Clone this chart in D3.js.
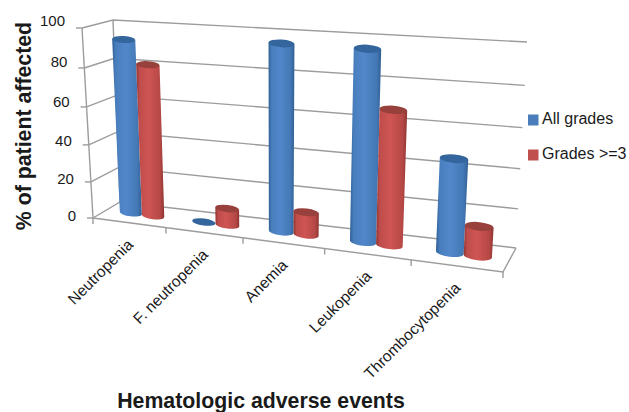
<!DOCTYPE html>
<html>
<head>
<meta charset="utf-8">
<script src="https://cdn.jsdelivr.net/npm/d3@7.9.0/dist/d3.min.js"></script>
<style>
  html, body { margin: 0; padding: 0; background: #fff; }
  text { font-family: "Liberation Sans", Arial, sans-serif; fill: #1a1a1a; }
</style>
</head>
<body>
<svg id="chart" width="629" height="412"></svg>
<script>
// Values
const categories = ['Neutropenia', 'F. neutropenia', 'Anemia', 'Leukopenia', 'Thrombocytopenia'];
const seriesNames = ['All grades', 'Grades >=3'];
const allGrades = [93, 0, 96, 96, 47];
const gradesAbove3 = [81, 9, 12, 68, 15];
const yTicks = [0, 20, 40, 60, 80, 100];

const width = 629, height = 412;
const svg = d3.select('#chart');

// Box corners of the 3D chart, [front, back] x [bottom, top]
const frontLeft = [[93, 218], [82, 28]];
const frontRight = [[503, 272], [517, 57]];
const backLeft = [[120, 202], [113, 20]];
const backRight = [[516, 248], [527, 42]];

// Perspective squeeze along the width and the height
const warp = (t, k) => t / (t + k * (1 - t));
const lerp = (a, b, t) => a + (b - a) * t;
const lerp2 = (a, b, t) => [lerp(a[0], b[0], t), lerp(a[1], b[1], t)];

function project(t, depth, z) {
  const tw = warp(t, 1.155), zw = warp(z, 1.066);
  const fb = lerp2(frontLeft[0], frontRight[0], tw);
  const ft = lerp2(frontLeft[1], frontRight[1], tw);
  const bb = lerp2(backLeft[0], backRight[0], tw);
  const bt = lerp2(backLeft[1], backRight[1], tw);
  return lerp2(lerp2(fb, ft, zw), lerp2(bb, bt, zw), depth);
}

const x0 = d3.scaleBand().domain(categories).range([0, 1]).paddingInner(0.38).paddingOuter(0.19);
const x1 = d3.scaleBand().domain(seriesNames).range([0, x0.bandwidth()]);
const y = d3.scaleLinear().domain([0, 100]).range([0, 1]);
const line = d3.line();

// gradients for the cylinders
const defs = svg.append('defs');
function bodyGradient(id, dark, light) {
  const g = defs.append('linearGradient').attr('id', id);
  g.append('stop').attr('offset', '0%').attr('stop-color', dark);
  g.append('stop').attr('offset', '12%').attr('stop-color', d3.interpolateRgb(dark, light)(0.75));
  g.append('stop').attr('offset', '45%').attr('stop-color', light);
  g.append('stop').attr('offset', '85%').attr('stop-color', d3.interpolateRgb(dark, light)(0.6));
  g.append('stop').attr('offset', '100%').attr('stop-color', dark);
}
bodyGradient('grad0', '#2f5f94', '#5288cb');
bodyGradient('grad1', '#8e3532', '#cf5553');
const topColors = ['#34659c', '#97403c'];
const flatColors = ['#4a7ebb', '#c0504d'];

// walls
const wall = svg.append('g').attr('fill', 'none').attr('stroke', '#9c9c9c').attr('stroke-width', 1.4);
yTicks.forEach(v => {
  const z = y(v);
  wall.append('path').attr('d', line([project(0, 0, z), project(0, 1, z), project(1, 1, z)]));
  wall.append('path').attr('d', line([project(0, 0, z), [project(0, 0, z)[0] - 6, project(0, 0, z)[1]]]));
});
wall.append('path').attr('d', line([project(0, 0, 0), project(0, 0, 1)]));
wall.append('path').attr('d', line([project(0, 1, 0), project(0, 1, 1)]));
wall.append('path').attr('d', line([project(0, 0, 0), project(1, 0, 0), project(1, 1, 0)]));
d3.range(0, categories.length + 1).forEach(i => {
  const p = project(i / categories.length, 0, 0);
  wall.append('path').attr('d', line([p, [p[0], p[1] + 6]]));
});

// y tick labels
svg.append('g').selectAll('text').data(yTicks).join('text')
  .attr('x', d => project(0, 0, y(d))[0] - 17)
  .attr('y', d => project(0, 0, y(d))[1] - 1 - 5 * y(d))
  .attr('text-anchor', 'end')
  .attr('dominant-baseline', 'middle')
  .attr('font-size', 15)
  .text(d => d);

// one cylinder
function drawBar(cat, s, value) {
  const g = svg.append('g');
  const c = x0(cat) + x1(seriesNames[s]);
  const w = x1.bandwidth();
  const z = y(value);
  const bl = project(c, 0.5, 0), br = project(c + w, 0.5, 0);
  const tl = project(c, 0.5, z), tr = project(c + w, 0.5, z);
  const arc = (a, b, sweep) => {
    const rx = Math.hypot(b[0] - a[0], b[1] - a[1]) / 2;
    const rot = Math.atan2(b[1] - a[1], b[0] - a[0]) * 180 / Math.PI;
    return `A${rx},${rx * 0.3} ${rot} 0 ${sweep} ${b[0]},${b[1]}`;
  };
  if (value > 0) {
    g.append('path')
      .attr('d', `M${bl[0]},${bl[1]} L${tl[0]},${tl[1]} L${tr[0]},${tr[1]} L${br[0]},${br[1]} ${arc(br, bl, 1)} Z`)
      .attr('fill', `url(#grad${s})`);
  }
  g.append('path')
    .attr('d', `M${tl[0]},${tl[1]} ${arc(tl, tr, 1)} ${arc(tr, tl, 1)} Z`)
    .attr('fill', topColors[s]);
}
categories.forEach((cat, i) => {
  drawBar(cat, 0, allGrades[i]);
  drawBar(cat, 1, gradesAbove3[i]);
});

// category labels
svg.append('g').selectAll('text').data(categories).join('text')
  .attr('transform', d => {
    const p = project(x0(d) + x0.bandwidth() / 2, 0, 0);
    return `translate(${p[0] + 5},${p[1] + 23}) rotate(-45)`;
  })
  .attr('text-anchor', 'end')
  .attr('font-size', 15.5)
  .text(d => d);

// legend
const legendY = d3.scalePoint().domain(seriesNames).range([120, 155]);
const legend = svg.append('g').selectAll('g').data(seriesNames).join('g')
  .attr('transform', d => `translate(528,${legendY(d)})`);
legend.append('rect').attr('x', 0).attr('y', -5.5).attr('width', 10.5).attr('height', 11)
  .attr('fill', (d, i) => flatColors[i]);
legend.append('text').attr('x', 14).attr('y', 0)
  .attr('dominant-baseline', 'middle').attr('font-size', 16).text(d => d);

// axis titles
svg.append('text')
  .attr('transform', 'translate(31,126) rotate(-90)')
  .attr('text-anchor', 'middle')
  .attr('font-size', 21.3).attr('font-weight', 'bold')
  .text('% of patient affected');
svg.append('text')
  .attr('x', 261).attr('y', 408)
  .attr('text-anchor', 'middle')
  .attr('font-size', 21.3).attr('font-weight', 'bold')
  .text('Hematologic adverse events');
</script>
</body>
</html>
